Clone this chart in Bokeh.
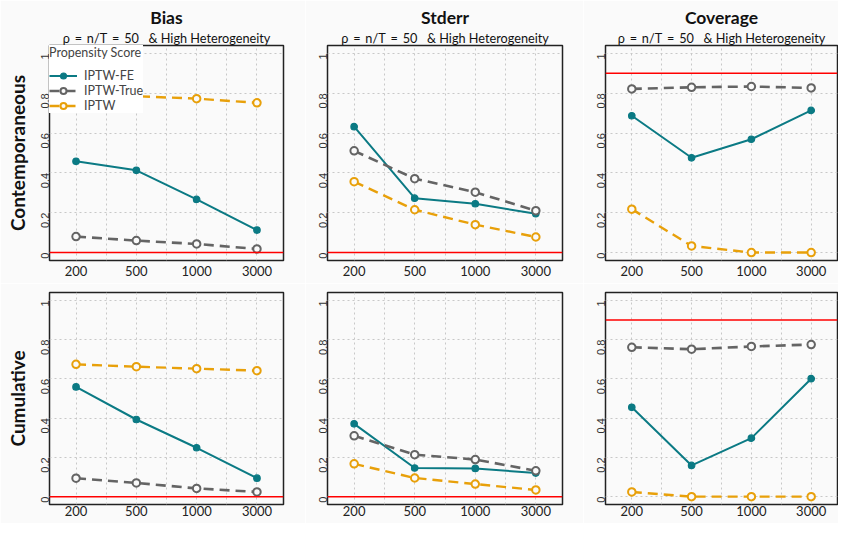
import math
from bokeh.plotting import figure
from bokeh.models import Range1d, FixedTicker, Span, Legend, LegendItem, Title
from bokeh.layouts import row, column
from bokeh.embed import file_html
from bokeh.resources import INLINE

# ---------------- data ----------------
sample_sizes = ["200", "500", "1000", "3000"]
methods = ["IPTW-FE", "IPTW-True", "IPTW"]
metrics = ["Bias", "Stderr", "Coverage"]
row_labels = ["Contemporaneous", "Cumulative"]
TH = "\u2009"
EN = "\u2002"
subtitle = ("\u03c1" + TH + " =" + TH + " n/T" + TH + " =" + TH + " 50"
            + " " + EN + "& High Heterogeneity")
legend_title = "Propensity Score"
y_ticks = [0, 0.2, 0.4, 0.6, 0.8, 1]
y_tick_labels = ["0", "0.2", "0.4", "0.6", "0.8", "1"]
reference_lines = [0.0, 0.0, 0.9]

# Contemporaneous
cont_bias_fe = [0.458, 0.413, 0.267, 0.113]
cont_bias_true = [0.080, 0.060, 0.043, 0.018]
cont_bias_iptw = [0.795, 0.785, 0.773, 0.752]
cont_se_fe = [0.632, 0.273, 0.245, 0.195]
cont_se_true = [0.511, 0.371, 0.303, 0.210]
cont_se_iptw = [0.356, 0.215, 0.140, 0.078]
cont_cov_fe = [0.687, 0.476, 0.569, 0.714]
cont_cov_true = [0.822, 0.830, 0.834, 0.827]
cont_cov_iptw = [0.218, 0.033, 0.0, 0.0]
# Cumulative
cum_bias_fe = [0.559, 0.393, 0.249, 0.094]
cum_bias_true = [0.094, 0.070, 0.042, 0.024]
cum_bias_iptw = [0.674, 0.662, 0.652, 0.642]
cum_se_fe = [0.371, 0.146, 0.144, 0.120]
cum_se_true = [0.310, 0.214, 0.189, 0.132]
cum_se_iptw = [0.167, 0.095, 0.064, 0.034]
cum_cov_fe = [0.455, 0.159, 0.298, 0.601]
cum_cov_true = [0.761, 0.751, 0.765, 0.775]
cum_cov_iptw = [0.024, 0.0, 0.0, 0.0]

panel_data = [
    [[cont_bias_fe, cont_bias_true, cont_bias_iptw],
     [cont_se_fe, cont_se_true, cont_se_iptw],
     [cont_cov_fe, cont_cov_true, cont_cov_iptw]],
    [[cum_bias_fe, cum_bias_true, cum_bias_iptw],
     [cum_se_fe, cum_se_true, cum_se_iptw],
     [cum_cov_fe, cum_cov_true, cum_cov_iptw]],
]

# ---------------- styles ----------------
BG = "#fafafa"
styles = [
    dict(color="#0b7a84", dash="solid", size=6.5, lw=1.2, fill=True, width=2.0),
    dict(color="#646464", dash="10 6", size=7.5, lw=2, fill=False, width=2.6),
    dict(color="#e8a00a", dash="10 6", size=7.5, lw=2, fill=False, width=2.4),
]

xpos = list(range(1, len(sample_sizes) + 1))

widths = [305, 278, 255]
borders_lr = [(49, 22), (22, 21), (22, 1)]
heights = [283, 240]
borders_tb = [(45, 23), (9, 19)]
x_standoff = [5, 1]

rows_out = []
for r in range(2):
    figs = []
    for c in range(3):
        bl, br = borders_lr[c]
        bt, bb = borders_tb[r]
        p = figure(width=widths[c], height=heights[r], output_backend="svg",
                   toolbar_location=None,
                   x_range=Range1d(0.56, 4.44), y_range=Range1d(-0.04, 1.04),
                   min_border_left=bl, min_border_right=br,
                   min_border_top=bt, min_border_bottom=bb,
                   background_fill_color=BG, border_fill_color=BG)
        p.outline_line_color = "#222222"
        p.outline_line_width = 1.5
        p.title.visible = False

        p.xaxis.ticker = FixedTicker(ticks=xpos, minor_ticks=[1.5, 2.5, 3.5])
        p.xaxis.major_label_overrides = {xv: lab for xv, lab in zip(xpos, sample_sizes)}
        p.yaxis.ticker = FixedTicker(ticks=y_ticks)
        p.yaxis.major_label_overrides = {t: lab for t, lab in zip(y_ticks, y_tick_labels)}
        for ax in (p.xaxis, p.yaxis):
            ax.axis_line_color = None
            ax.major_tick_out = 0
            ax.major_tick_in = 0
            ax.minor_tick_out = 0
            ax.minor_tick_in = 0
        p.xaxis.major_label_text_font = "Lato"
        p.xaxis.major_label_text_font_size = "13px"
        p.xaxis.major_label_text_color = "#222222"
        p.xaxis.major_label_standoff = x_standoff[r]
        p.yaxis.major_label_text_font = "Liberation Sans"
        p.yaxis.major_label_text_font_size = "11px"
        p.yaxis.major_label_text_color = "#333333"
        p.yaxis.major_label_orientation = math.pi / 2
        p.yaxis.major_label_standoff = 4
        if c == 0:
            p.yaxis.axis_label = row_labels[r]
            p.yaxis.axis_label_text_font = "Lato"
            p.yaxis.axis_label_text_font_style = "bold"
            p.yaxis.axis_label_text_font_size = "19px"
            p.yaxis.axis_label_text_color = "#111111"
            p.yaxis.axis_label_standoff = 6

        for g in (p.xgrid, p.ygrid):
            g.grid_line_color = "#c8c8c8"
            g.grid_line_dash = "2 3"
            g.grid_line_width = 1
        p.xgrid.minor_grid_line_color = "#c8c8c8"
        p.xgrid.minor_grid_line_dash = "2 3"

        if r == 0:
            p.add_layout(Title(text=subtitle, align="center", text_font="Lato",
                               text_font_size="12.7px", text_font_style="normal",
                               text_color="#111111", standoff=0,
                               text_line_height=0.85), "above")
            p.add_layout(Title(text=metrics[c], align="center", text_font="Lato",
                               text_font_size="17.5px", text_font_style="bold",
                               text_color="#111111", standoff=0,
                               text_line_height=0.85), "above")

        p.add_layout(Span(location=reference_lines[c], dimension="width",
                          line_color="#ff0000", line_width=1.5))

        items = []
        for m, series in enumerate(panel_data[r][c]):
            st = styles[m]
            lr = p.line(xpos, series, line_color=st["color"], line_width=st["width"],
                        line_dash=st["dash"])
            sr = p.scatter(xpos, series, marker="circle", size=st["size"],
                           line_color=st["color"], line_width=st["lw"],
                           fill_color=st["color"] if st["fill"] else BG)
            items.append(LegendItem(label=methods[m], renderers=[lr, sr]))

        if r == 0 and c == 0:
            legend = Legend(items=items, location="top_left", title=legend_title,
                            background_fill_color="white", background_fill_alpha=1,
                            border_line_color=None, margin=0, padding=7, spacing=0,
                            label_text_font="Lato", label_text_font_size="12.5px",
                            title_text_font="Lato", title_text_font_size="12.5px",
                            title_text_font_style="normal", title_standoff=8,
                            glyph_width=28, glyph_height=15, label_height=15,
                            label_standoff=7)
            p.add_layout(legend)
        figs.append(p)
    rows_out.append(row(*figs))

layout = column(*rows_out)
open("out.html", "w").write(file_html(layout, INLINE))
